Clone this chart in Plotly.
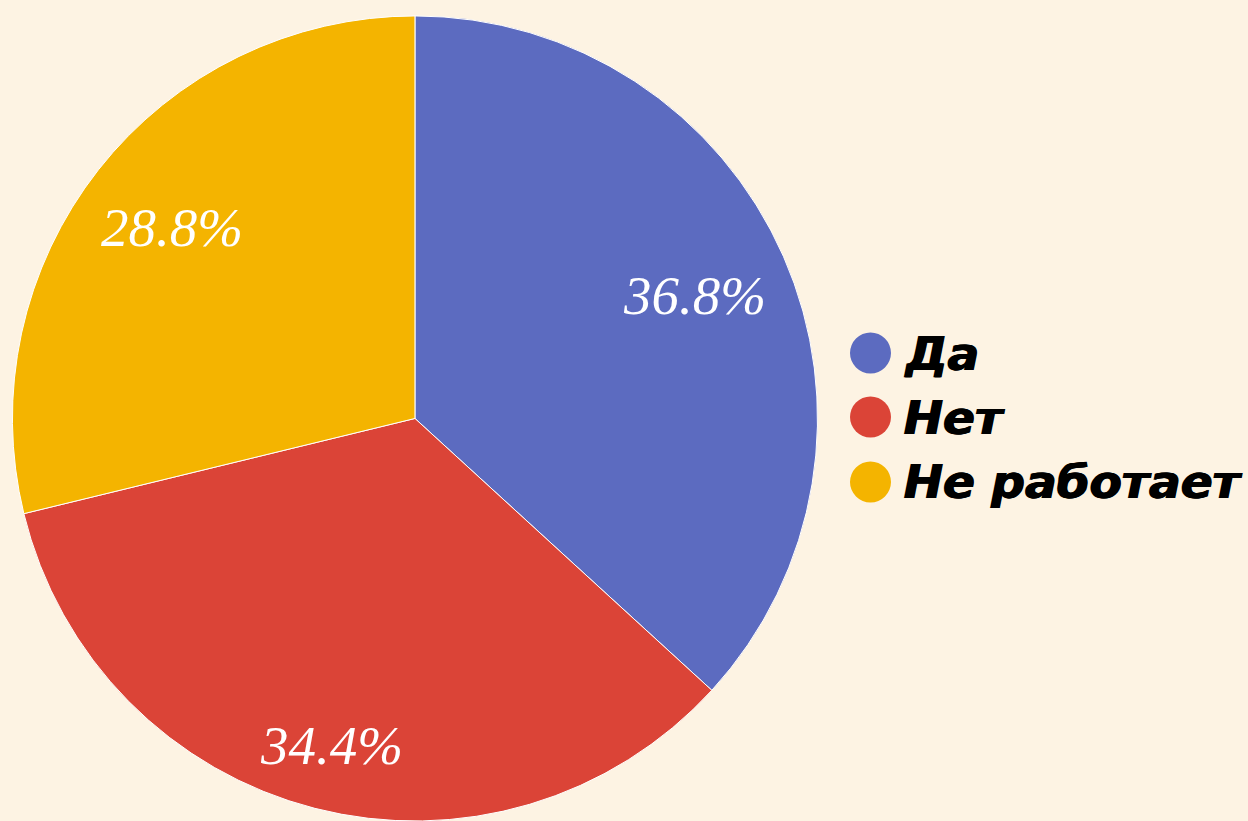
import math
import plotly.graph_objects as go

categories = ["Да", "Нет", "Не работает"]
values = [36.8, 34.4, 28.8]
colors = ["#5C6BC0", "#DB4437", "#F4B400"]

BG = "#FDF3E3"
W, H = 1248, 821

dom_x = [0.0096, 0.6554]
dom_y = [0.0, 0.9806]

fig = go.Figure()
fig.add_trace(go.Pie(
    labels=categories,
    values=values,
    marker=dict(colors=colors, line=dict(color="#FFFFFF", width=1)),
    sort=False,
    direction="clockwise",
    rotation=0,
    textinfo="none",
    showlegend=False,
    hoverinfo="label+percent",
    domain=dict(x=dom_x, y=dom_y),
))

# percentage labels, placed along each slice's mid-angle and pushed outward
cx = (dom_x[0] + dom_x[1]) / 2 * W
cy = (dom_y[0] + dom_y[1]) / 2 * H
R = min((dom_x[1] - dom_x[0]) * W, (dom_y[1] - dom_y[0]) * H) / 2
total = sum(values)
hw, hh = 72, 18          # approx half size of label box (px)
k = 0.94                 # farthest corner of label box reaches k*R
cum = 0
for v in values:
    mid = math.radians(90 - (cum + v / 2) / total * 360)
    cum += v
    ux, uy = math.cos(mid), math.sin(mid)
    sx = hw if ux >= 0 else -hw
    sy = hh if uy >= 0 else -hh
    b = ux * sx + uy * sy
    c = sx * sx + sy * sy - (k * R) ** 2
    d = -b + math.sqrt(b * b - c)
    px = cx + d * ux
    py = cy + d * uy
    fig.add_annotation(x=px / W, y=py / H, xref="paper", yref="paper",
                       text=f"{v / total * 100:.1f}%", showarrow=False,
                       xanchor="center", yanchor="middle",
                       font=dict(family="Liberation Serif", size=55,
                                 color="#FFFFFF", style="italic"))

# custom legend with large circular markers
legend_y = [1 - 353 / H, 1 - 417 / H, 1 - 482 / H]
for cat, col, yy in zip(categories, colors, legend_y):
    fig.add_shape(type="circle", xref="paper", yref="paper",
                  x0=850 / W, x1=891 / W, y0=yy - 20.5 / H, y1=yy + 20.5 / H,
                  fillcolor=col, line=dict(width=0))
    fig.add_annotation(x=901 / W, y=yy, xref="paper", yref="paper",
                       text=cat, showarrow=False, xanchor="left", yanchor="middle",
                       font=dict(family="DejaVu Sans", size=47, color="#000000",
                                 weight="bold", style="italic",
                                 shadow="1px 0px 0px #000, 1.5px 0px 0px #000"))

fig.update_layout(
    width=W, height=H,
    margin=dict(l=0, r=0, t=0, b=0),
    paper_bgcolor=BG, plot_bgcolor=BG,
)
fig.write_html("out.html", config={"displayModeBar": False},
               post_script="document.body.style.margin='0';document.body.style.background='#FDF3E3';")
